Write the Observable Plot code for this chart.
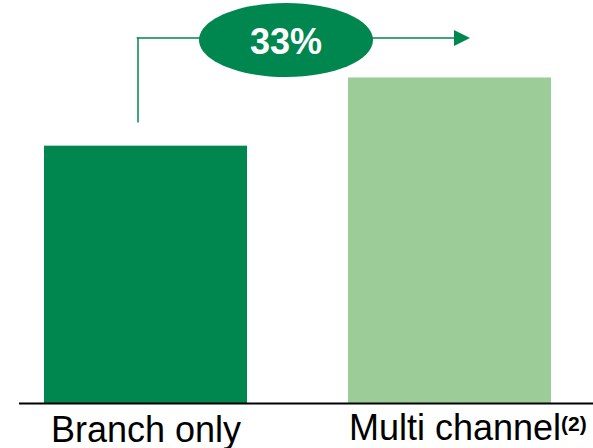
<!DOCTYPE html>
<html>
<head>
<meta charset="utf-8">
<script src="https://cdn.jsdelivr.net/npm/d3@7"></script>
<script src="https://cdn.jsdelivr.net/npm/@observablehq/plot@0.6"></script>
<style>
  html, body { margin: 0; padding: 0; background: #fff; }
  #chart { width: 593px; height: 448px; }
</style>
</head>
<body>
<div id="chart"></div>
<script>
// ---- data ----
const categories = ["Branch only", "Multi channel"];
const values = [1.00, 1.265];          // relative bar heights
const barColors = ["#00874F", "#9CCD99"];
const growthLabel = "33%";
const footnote = "(2)";
const connector = { from: "Branch only", to: "Multi channel", yStart: 1.09, yLevel: 1.42 };

const data = categories.map((c, i) => ({ category: c, value: values[i], color: barColors[i] }));
const FONT = "'Liberation Sans', Arial, Helvetica, sans-serif";
const GREEN = "#00874F";

// custom symbols
const ellipseSymbol = {
  draw(ctx) {
    const rx = 87, ry = 37, k = 0.5523;
    ctx.moveTo(rx, 0);
    ctx.bezierCurveTo(rx, ry * k, rx * k, ry, 0, ry);
    ctx.bezierCurveTo(-rx * k, ry, -rx, ry * k, -rx, 0);
    ctx.bezierCurveTo(-rx, -ry * k, -rx * k, -ry, 0, -ry);
    ctx.bezierCurveTo(rx * k, -ry, rx, -ry * k, rx, 0);
    ctx.closePath();
  }
};
const headSymbol = {
  draw(ctx) {
    ctx.moveTo(8, 0);
    ctx.lineTo(-8, -8);
    ctx.lineTo(-8, 8);
    ctx.closePath();
  }
};

const chart = Plot.plot({
  width: 593,
  height: 448,
  marginLeft: 43,
  marginRight: 41,
  marginTop: 17,
  marginBottom: 45,
  style: { fontFamily: FONT, background: "#fff", color: "#000" },
  x: { domain: categories, paddingInner: 0.331, paddingOuter: 0, axis: null },
  y: { domain: [0, 1.5], axis: null },
  marks: [
    Plot.barY(data, { x: "category", y: "value", fill: "color" }),
    Plot.ruleY([0], { stroke: "#000", strokeWidth: 2, insetLeft: -24, insetRight: -41 }),
    // connector
    Plot.ruleX([connector], { x: "from", y1: "yStart", y2: "yLevel", dx: -8, stroke: GREEN, strokeWidth: 1.5 }),
    Plot.arrow([connector], { x1: "from", x2: "to", y1: "yLevel", y2: "yLevel", headLength: 0,
      insetStart: -8.75, insetEnd: -4, stroke: GREEN, strokeWidth: 1.5 }),
    Plot.dot([connector], { x: "to", y: "yLevel", dx: 12, symbol: headSymbol, fill: GREEN, stroke: "none", r: 5 }),
    Plot.dot([connector], { x: "from", y: "yLevel", dx: 140, dy: 2, symbol: ellipseSymbol, fill: GREEN, stroke: "none", r: 5 }),
    Plot.text([growthLabel], { x: () => connector.from, y: () => connector.yLevel, text: d => d, dx: 140, dy: 4.5,
      fill: "#fff", fontSize: 36, fontWeight: "bold", fontFamily: FONT }),
    // category labels
    Plot.text([categories[0]], { x: d => d, text: d => d, frameAnchor: "bottom", lineAnchor: "bottom",
      dy: 38, fontSize: 36, fill: "#000", fontFamily: FONT }),
    Plot.text([categories[1]], { x: d => d, text: d => d, frameAnchor: "bottom", lineAnchor: "bottom",
      dy: 36, dx: 5, fontSize: 36, fill: "#000", fontFamily: FONT }),
    Plot.text([footnote], { x: () => categories[1], text: d => d, frameAnchor: "bottom", lineAnchor: "bottom",
      dy: 27, dx: 111, textAnchor: "start", fontSize: 21, fontWeight: "bold", fill: "#000", fontFamily: FONT })
  ]
});
document.getElementById("chart").appendChild(chart);
</script>
</body>
</html>
